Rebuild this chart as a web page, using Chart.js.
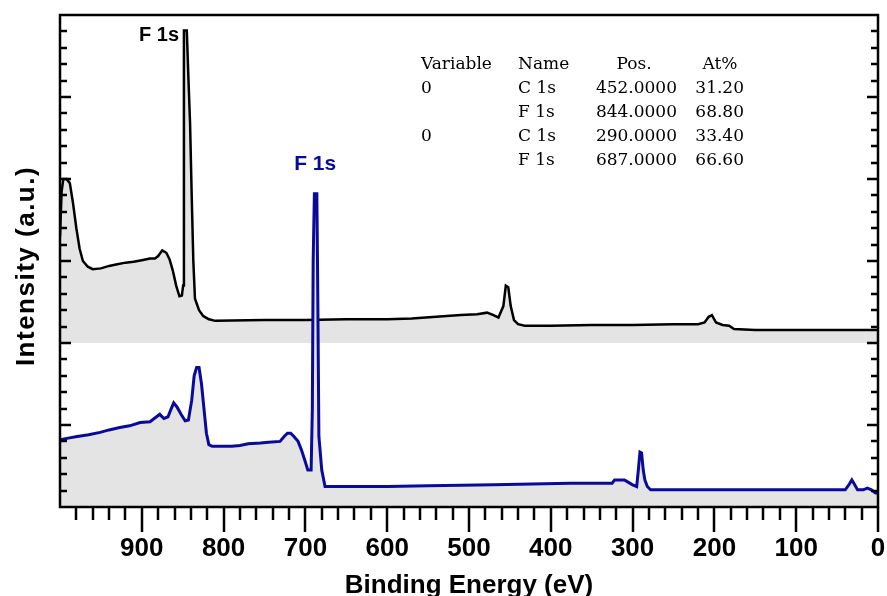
<!DOCTYPE html>
<html>
<head>
<meta charset="utf-8">
<script src="https://cdn.jsdelivr.net/npm/chart.js@4.4.1/dist/chart.umd.min.js"></script>
<style>
html, body { margin: 0; padding: 0; background: #fff; }
#wrap { width: 887px; height: 596px; position: relative; }
</style>
</head>
<body>
<div id="wrap"><canvas id="myChart"></canvas></div>
<script>
// upper spectrum (black), binding energy in eV and intensity (offset by 2)
var blackEnergy = [1000, 998, 996, 992, 988, 984, 980, 976, 972, 966, 960, 950, 940, 930, 920, 910, 900, 890, 884, 880, 875, 870, 866, 862, 858, 854, 851, 849.5, 848.5, 845, 843, 841, 839, 837, 835, 830, 825, 818, 810, 750, 700, 650, 600, 570, 540, 510, 490, 478, 470, 464, 458, 455, 452, 449, 445, 440, 432, 400, 350, 300, 250, 220, 212, 207, 203, 198, 190, 182, 176, 150, 100, 50, 0];
var blackIntensity = [3.3, 3.85, 4.0, 4.0, 3.95, 3.7, 3.4, 3.15, 3.0, 2.93, 2.9, 2.91, 2.94, 2.96, 2.98, 2.99, 3.01, 3.03, 3.03, 3.06, 3.13, 3.1, 3.02, 2.88, 2.7, 2.57, 2.58, 2.7, 5.81, 5.81, 5.23, 4.68, 3.8, 3.0, 2.54, 2.4, 2.33, 2.29, 2.27, 2.28, 2.28, 2.29, 2.29, 2.3, 2.32, 2.34, 2.35, 2.37, 2.34, 2.31, 2.45, 2.7, 2.68, 2.45, 2.28, 2.23, 2.21, 2.21, 2.22, 2.22, 2.23, 2.23, 2.25, 2.32, 2.34, 2.25, 2.22, 2.21, 2.17, 2.16, 2.16, 2.16, 2.16];

// lower spectrum (blue)
var blueEnergy = [1000, 990, 979, 965, 951, 940, 927, 915, 902, 890, 882, 878, 873, 868, 864, 861, 857, 852, 847, 843, 839, 836, 833, 830, 827, 824, 821, 818, 814, 800, 790, 780, 770, 755, 745, 731, 726, 722, 718, 714, 709, 705, 701, 697, 693, 691.5, 690.5, 689, 686, 685, 683.5, 680, 676, 672, 600, 550, 470, 376, 325, 322, 310, 305, 300, 295, 293, 291, 289, 287, 285, 282, 278, 270, 200, 100, 40, 35, 32, 29, 25, 18, 13, 8, 3, 0];
var blueIntensity = [0.82, 0.84, 0.86, 0.88, 0.91, 0.94, 0.97, 0.99, 1.03, 1.04, 1.1, 1.13, 1.08, 1.1, 1.2, 1.27, 1.22, 1.13, 1.05, 1.06, 1.3, 1.6, 1.7, 1.7, 1.5, 1.2, 0.9, 0.76, 0.74, 0.74, 0.74, 0.75, 0.77, 0.78, 0.79, 0.8, 0.86, 0.9, 0.9, 0.86, 0.8, 0.7, 0.58, 0.45, 0.45, 1.2, 3.0, 3.82, 3.82, 2.76, 0.86, 0.45, 0.25, 0.25, 0.25, 0.26, 0.27, 0.29, 0.29, 0.33, 0.33, 0.3, 0.27, 0.25, 0.45, 0.67, 0.66, 0.45, 0.33, 0.25, 0.21, 0.21, 0.21, 0.21, 0.21, 0.28, 0.33, 0.28, 0.21, 0.21, 0.23, 0.21, 0.17, 0.17];

var xTickValues = [900, 800, 700, 600, 500, 400, 300, 200, 100, 0];

var tableHeader = ['Variable', 'Name', 'Pos.', 'At%'];
var tableRows = [
    ['0', 'C 1s', '452.0000', '31.20'],
    ['', 'F 1s', '844.0000', '68.80'],
    ['0', 'C 1s', '290.0000', '33.40'],
    ['', 'F 1s', '687.0000', '66.60']
];

var blueColor = '#0a0a9a';
var fillGray = '#e4e4e4';
var sansBold = '"Liberation Sans", Arial, sans-serif';

function toPoints(xs, ys) {
    var pts = [];
    for (var i = 0; i < xs.length; i++) {
        pts.push({ x: xs[i], y: ys[i] });
    }
    return pts;
}

// frame, inward/outward ticks, tick labels, titles, peak labels and table
var decorations = {
    id: 'decorations',
    afterDraw: function (chart) {
        var ctx = chart.ctx;
        var area = chart.chartArea;
        var xs = chart.scales.x;
        var ys = chart.scales.y;
        ctx.save();
        ctx.strokeStyle = '#000';
        ctx.fillStyle = '#000';

        // ticks on bottom axis (outward)
        ctx.lineWidth = 2.5;
        for (var v = 0; v < 1000; v += 20) {
            var px = Math.round(xs.getPixelForValue(v));
            var len = (v % 100 === 0) ? 25 : 13;
            ctx.beginPath();
            ctx.moveTo(px, area.bottom);
            ctx.lineTo(px, area.bottom + len);
            ctx.stroke();
        }

        // ticks on left and right axes (inward)
        for (var k = 1; k < 30; k++) {
            var py = Math.round(ys.getPixelForValue(k * 0.2));
            var l = (k % 5 === 0) ? 11 : 7;
            ctx.beginPath();
            ctx.moveTo(area.left, py);
            ctx.lineTo(area.left + l, py);
            ctx.moveTo(area.right, py);
            ctx.lineTo(area.right - l, py);
            ctx.stroke();
        }

        // frame
        ctx.lineWidth = 2.5;
        ctx.strokeRect(area.left, area.top, area.right - area.left, area.bottom - area.top);

        // tick labels
        ctx.font = 'bold 26px ' + sansBold;
        ctx.textAlign = 'center';
        ctx.textBaseline = 'middle';
        xTickValues.forEach(function (t) {
            ctx.fillText(String(t), xs.getPixelForValue(t), 549);
        });

        // axis titles
        ctx.font = 'bold 26px ' + sansBold;
        ctx.textBaseline = 'alphabetic';
        ctx.fillText('Binding Energy (eV)', (area.left + area.right) / 2, 593);
        ctx.save();
        ctx.translate(34, 266);
        ctx.rotate(-Math.PI / 2);
        ctx.letterSpacing = '1.5px';
        ctx.fillText('Intensity (a.u.)', 0, 0);
        ctx.restore();

        // peak labels
        ctx.font = 'bold 20px ' + sansBold;
        ctx.textAlign = 'right';
        ctx.textBaseline = 'middle';
        ctx.fillStyle = '#000';
        ctx.fillText('F 1s', xs.getPixelForValue(849.5) - 4, ys.getPixelForValue(5.75));
        ctx.font = 'bold 21px ' + sansBold;
        ctx.textAlign = 'center';
        ctx.fillStyle = blueColor;
        ctx.fillText('F 1s', xs.getPixelForValue(688), ys.getPixelForValue(4.18));

        // quantification table
        ctx.fillStyle = '#000';
        ctx.font = '17px "DejaVu Serif", "Liberation Serif", serif';
        var rowY = [65, 89, 113, 137, 161];
        function drawRow(cells, y, header) {
            ctx.textAlign = 'left';
            ctx.fillText(cells[0], 421, y);
            ctx.fillText(cells[1], 518, y);
            if (header) {
                ctx.textAlign = 'center';
                ctx.fillText(cells[2], 634, y);
                ctx.fillText(cells[3], 720, y);
            } else {
                ctx.textAlign = 'right';
                ctx.fillText(cells[2], 677, y);
                ctx.fillText(cells[3], 744, y);
            }
        }
        drawRow(tableHeader, rowY[0], true);
        tableRows.forEach(function (r, i) {
            drawRow(r, rowY[i + 1], false);
        });
        ctx.restore();
    }
};

var ctx = document.getElementById('myChart');
var myChart = new Chart(ctx, {
    type: 'line',
    data: {
        datasets: [{
            label: 'lower',
            data: toPoints(blueEnergy, blueIntensity),
            borderColor: blueColor,
            borderWidth: 3,
            backgroundColor: fillGray,
            fill: 'origin',
            pointRadius: 0,
            tension: 0
        }, {
            label: 'upper',
            data: toPoints(blackEnergy, blackIntensity),
            borderColor: '#000',
            borderWidth: 2.5,
            backgroundColor: fillGray,
            fill: { value: 2 },
            pointRadius: 0,
            tension: 0
        }]
    },
    options: {
        responsive: true,
        maintainAspectRatio: false,
        animation: false,
        layout: { padding: { left: 60, right: 9, top: 15, bottom: 89 } },
        scales: {
            x: { type: 'linear', reverse: true, min: 0, max: 1000, display: false },
            y: { type: 'linear', min: 0, max: 6, display: false }
        },
        plugins: {
            legend: { display: false },
            tooltip: { enabled: false }
        }
    },
    plugins: [decorations]
});
</script>
</body>
</html>
